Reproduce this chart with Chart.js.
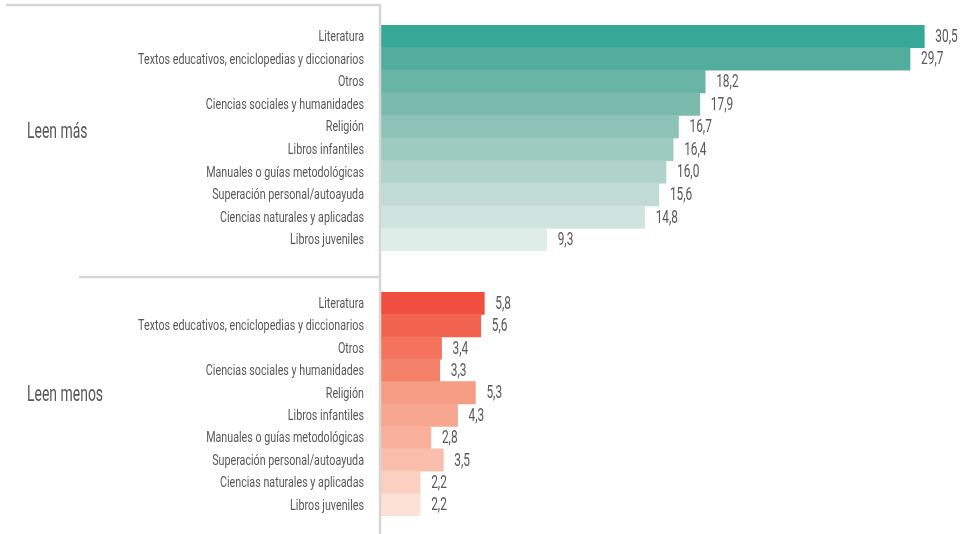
<!DOCTYPE html>
<html lang="es">
<head>
    <meta charset="UTF-8">
    <title>Leen más / Leen menos</title>
    <script src="https://cdn.jsdelivr.net/npm/chart.js"></script>
    <style>
        body {
            margin: 0;
            background: #ffffff;
            font-family: Roboto, sans-serif;
        }
        .wrap {
            position: relative;
            width: 967px;
            height: 534px;
        }
        .wrap canvas {
            position: absolute;
            left: 0;
        }
        #chartMas { top: 0; }
        #chartMenos { top: 276px; }
    </style>
</head>
<body>
    <div class="wrap">
        <canvas id="chartMas" width="967" height="276"></canvas>
        <canvas id="chartMenos" width="967" height="258"></canvas>
    </div>

    <script>
        // data
        const categories = [
            'Literatura',
            'Textos educativos, enciclopedias y diccionarios',
            'Otros',
            'Ciencias sociales y humanidades',
            'Religión',
            'Libros infantiles',
            'Manuales o guías metodológicas',
            'Superación personal/autoayuda',
            'Ciencias naturales y aplicadas',
            'Libros juveniles'
        ];
        const leenMas = [30.5, 29.7, 18.2, 17.9, 16.7, 16.4, 16.0, 15.6, 14.8, 9.3];
        const leenMenos = [5.8, 5.6, 3.4, 3.3, 5.3, 4.3, 2.8, 3.5, 2.2, 2.2];
        const groupLabels = ['Leen más', 'Leen menos'];
        const xMax = 32;

        const greens = ['#35a896', '#52ad9d', '#68b4a5', '#7bbbae', '#8dc3b7',
                        '#9ecbc0', '#afd3ca', '#bfdbd4', '#cfe4df', '#dfede9'];
        const reds = ['#f04e3e', '#f1634f', '#f3735d', '#f4826b', '#f69c85',
                      '#f7a690', '#f8b09a', '#fabfac', '#fcd0c1', '#fde1d6'];

        const FONT = 'Roboto, sans-serif';
        const TEXT = '#585858';
        const LINE = '#d6d6d6';

        function fmt(v) {
            return v.toFixed(1).replace('.', ',');
        }

        // narrow text: the source uses a condensed face
        function narrowText(ctx, str, x, y, size, sx, align) {
            ctx.save();
            ctx.font = size + 'px ' + FONT;
            ctx.textAlign = align;
            ctx.textBaseline = 'middle';
            ctx.translate(x, y);
            ctx.scale(sx, 1);
            ctx.fillText(str, 0, 0);
            ctx.restore();
        }

        // frame lines, group title, category and value labels
        function decorPlugin(groupLabel, titleShift, hLine) {
            return {
                id: 'decor',
                afterDraw(chart) {
                    const ctx = chart.ctx;
                    const area = chart.chartArea;
                    const yScale = chart.scales.y;
                    ctx.save();
                    ctx.strokeStyle = LINE;
                    ctx.lineWidth = 2.5;
                    ctx.beginPath();
                    ctx.moveTo(380, hLine.y);
                    ctx.lineTo(380, chart.height);
                    ctx.moveTo(hLine.x, hLine.y);
                    ctx.lineTo(381.2, hLine.y);
                    ctx.stroke();

                    ctx.fillStyle = TEXT;
                    narrowText(ctx, groupLabel, 27, (area.top + area.bottom) / 2 + titleShift, 22, 0.635, 'left');

                    chart.data.labels.forEach(function(label, i) {
                        narrowText(ctx, label, 364, yScale.getPixelForValue(i) + 1, 15, 0.715, 'right');
                    });

                    const meta = chart.getDatasetMeta(0);
                    const data = chart.data.datasets[0].data;
                    meta.data.forEach(function(bar, i) {
                        narrowText(ctx, fmt(data[i]), bar.x + 11, bar.y + 1, 18, 0.66, 'left');
                    });
                    ctx.restore();
                }
            };
        }

        function makeChart(id, values, colors, groupLabel, titleShift, padTop, padBottom, hLine) {
            return new Chart(document.getElementById(id), {
                type: 'bar',
                data: {
                    labels: categories,
                    datasets: [{
                        data: values,
                        backgroundColor: colors,
                        borderWidth: 0,
                        categoryPercentage: 1,
                        barPercentage: 1
                    }]
                },
                options: {
                    indexAxis: 'y',
                    responsive: false,
                    maintainAspectRatio: false,
                    animation: false,
                    layout: {
                        padding: { top: padTop, bottom: padBottom, left: 0, right: 16 }
                    },
                    plugins: {
                        legend: { display: false },
                        tooltip: { enabled: false }
                    },
                    scales: {
                        x: {
                            display: false,
                            min: 0,
                            max: xMax
                        },
                        y: {
                            grid: { display: false, drawTicks: false },
                            border: { display: false },
                            ticks: { display: false },
                            afterFit(scale) {
                                scale.width = 381;
                            }
                        }
                    }
                },
                plugins: [decorPlugin(groupLabel, titleShift, hLine)]
            });
        }

        document.addEventListener('DOMContentLoaded', function() {
            makeChart('chartMas', leenMas, greens, groupLabels[0], -6, 25, 25, { x: 6, y: 5 });
            makeChart('chartMenos', leenMenos, reds, groupLabels[1], -9, 16, 18, { x: 79, y: 1 });
        });
    </script>
</body>
</html>
